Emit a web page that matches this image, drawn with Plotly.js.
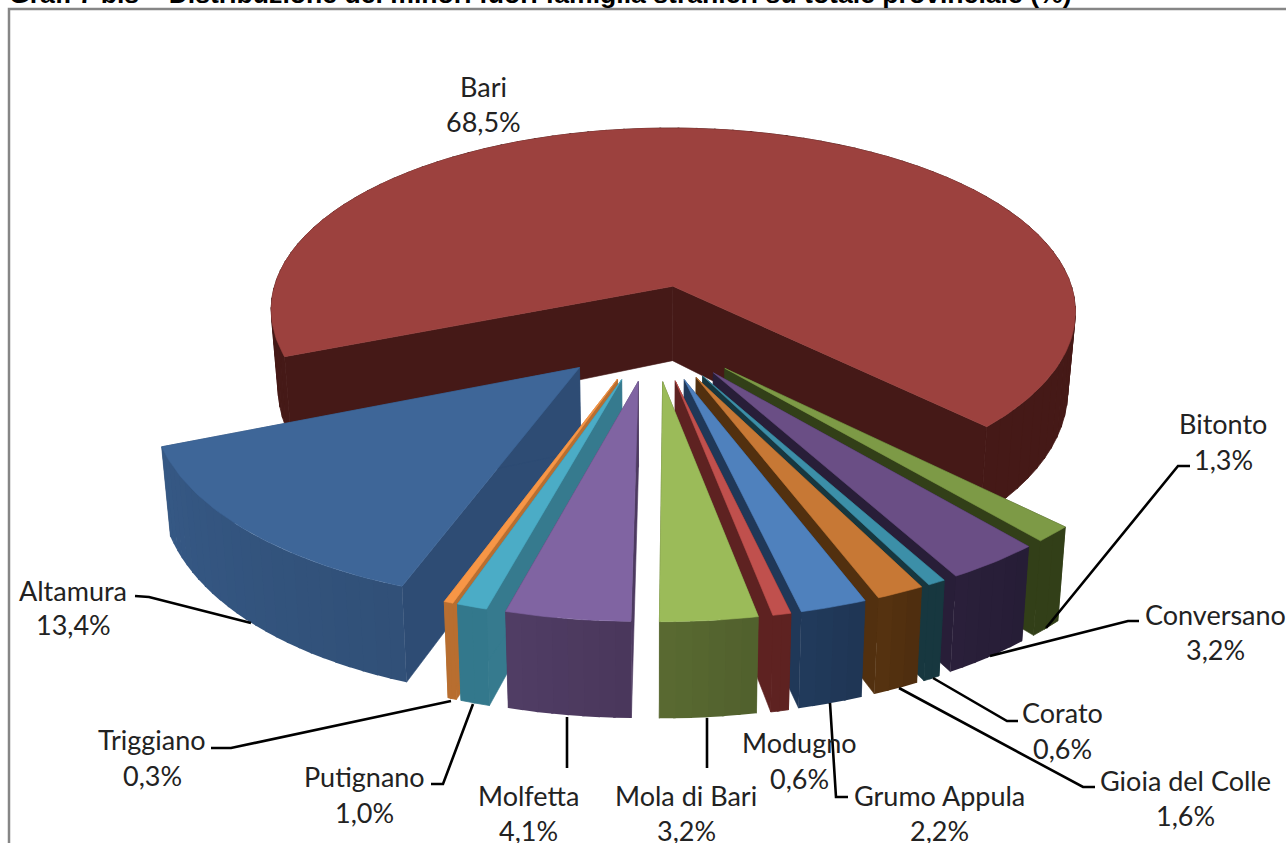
<!DOCTYPE html>
<html><head><meta charset="utf-8">
<script src="https://cdn.plot.ly/plotly-3.0.1.min.js"></script>
<style>html,body{margin:0;padding:0;background:#fff;overflow:hidden}#c{width:1286px;height:843px}</style>
</head><body><div id="c"></div>
<script>
const categories=["Altamura","Bari","Bitonto","Conversano","Corato","Gioia del Colle","Grumo Appula","Modugno","Mola di Bari","Molfetta","Putignano","Triggiano"];
const values=[13.4,68.5,1.3,3.2,0.6,1.6,2.2,0.6,3.2,4.1,1.0,0.3];
const valueLabels=["13,4%","68,5%","1,3%","3,2%","0,6%","1,6%","2,2%","0,6%","3,2%","4,1%","1,0%","0,3%"];
const topColors=["#3E6698","#9C413E","#7D9A46","#6A4E85","#3C8FA8","#C77835","#4F81BD","#C0504D","#9BBB59","#8064A2","#4BACC6","#F79646"];
const sideColors=["#2E4C74","#451917","#323F18","#281E38","#17373F","#52300F","#203858","#5E2221","#55652F","#4D3A60","#367A8E","#B86E30"];
const outerColors=["#33547E","#451917","#323F18","#281E38","#17373F","#52300F","#203858","#5E2221","#55652F","#4D3A60","#33788C","#B86E30"];
const labelX=[73,483,1223,1215,1062,1185,939,799,686,528,364,152];
const nameY=[590,86,423,614,712,780,795,742,795,795,776,739];
const valueY=[624,121,459,649,748,815,830,778,830,830,812,775];
const leaders=[
 [[135,596],[149,597],[251,623]],
 [[1046,628],[1178,466],[1190,466]],
 [[990,656],[1128,621],[1139,621]],
 [[933,678],[1007,721],[1018,721]],
 [[899,688],[1083,787],[1095,787]],
 [[830,703],[836,797],[848,797]],
 [[707,718],[707,768]],
 [[567,717],[567,768]],
 [[473,704],[443,784],[431,784]],
 [[451,701],[231,748],[211,748]]
];
const titleText="Graf. 7 bis – Distribuzione dei minori fuori famiglia stranieri su totale provinciale (%)";

const cx=653,cy=336,Rx=412,A=193,D=8,E=0.25,shrink=0.982,a0=200,bow=4;
const rad=d=>d*Math.PI/180;
function proj(X,Y,bottom){
  const s=1/(1-Y/D);
  let x=Rx*X*Math.pow(s,1.1),y=A*Y*s-bow*(1-(Y/1.25)*(Y/1.25));
  if(bottom){x*=shrink;y+=80+21.5*Y-6.5*Y*Y;}
  return [cx+x,cy+y];
}
function shade(hex,f){
  const n=parseInt(hex.slice(1),16),c=[n>>16,(n>>8)&255,n&255].map(v=>Math.min(255,Math.round(v*f)));
  return `rgb(${c[0]},${c[1]},${c[2]})`;
}
function poly(pts,color,w){
  const xs=pts.map(p=>p[0]),ys=pts.map(p=>p[1]);
  xs.push(xs[0]);ys.push(ys[0]);
  return {type:'scatter',mode:'lines',x:xs,y:ys,fill:'toself',fillcolor:color,line:{color:color,width:w===undefined?0.6:w},hoverinfo:'skip',showlegend:false};
}
const total=values.reduce((a,b)=>a+b,0);
let ang=a0;
const slices=values.map((v,i)=>{
  const sweep=v/total*360,s={i,a:ang,b:ang+sweep,mid:ang+sweep/2};
  ang+=sweep;
  s.ox=E*Math.sin(rad(s.mid));s.oy=-E*Math.cos(rad(s.mid));
  return s;
});
const order=slices.slice().sort((p,q)=>p.oy-q.oy);
const traces=[];
order.forEach(s=>{
  const pt=(t,r)=>[s.ox+r*Math.sin(rad(t)),s.oy-r*Math.cos(rad(t))];
  const apex=[s.ox,s.oy],pa=pt(s.a,1),pb=pt(s.b,1);
  const q=(p,b)=>proj(p[0],p[1],b);
  traces.push(poly([q(apex,0),q(pa,0),q(pa,1),q(apex,1)],sideColors[s.i]));
  traces.push(poly([q(apex,0),q(pb,0),q(pb,1),q(apex,1)],sideColors[s.i]));
  const sweep=s.b-s.a,big=sweep>5&&sweep<100,n=big?Math.ceil(sweep/2):Math.max(2,Math.ceil(sweep/3));
  for(let k=0;k<n;k++){
    const t0=s.a+sweep*k/n,t1=s.a+sweep*(k+1)/n+(k<n-1?0.3:0);
    const u=big?(k+.5)/n:0.5;
    const f=1.05-0.1*(1-u);
    traces.push(poly([q(pt(t0,1),0),q(pt(t1,1),0),q(pt(t1,1),1),q(pt(t0,1),1)],shade(outerColors[s.i],f),big?0:0.8));
  }
  const top=[q(apex,0)],m=Math.max(4,Math.ceil(sweep));
  for(let k=0;k<=m;k++)top.push(q(pt(s.a+sweep*k/m,1),0));
  traces.push(poly(top,topColors[s.i]));
});
const lf={family:'Lato, Carlito, sans-serif',size:27,color:'#222'};
const annotations=[];
categories.forEach((c,i)=>{
  annotations.push({x:labelX[i],y:nameY[i],xref:'x',yref:'y',text:c,showarrow:false,xanchor:'center',yanchor:'middle',font:lf});
  annotations.push({x:labelX[i],y:valueY[i],xref:'x',yref:'y',text:valueLabels[i],showarrow:false,xanchor:'center',yanchor:'middle',font:lf});
});
annotations.push({x:8,y:10.5,xref:'x',yref:'y',text:'<b>'+titleText+'</b>',showarrow:false,xanchor:'left',yanchor:'bottom',font:{family:'Liberation Sans, Arial, sans-serif',size:26.6,color:'#000'},borderpad:0});
const shapes=[{type:'rect',xref:'x',yref:'y',x0:9,y0:9,x1:1300,y1:860,line:{color:'#868686',width:2.5},fillcolor:'rgba(0,0,0,0)',layer:'above'}];
leaders.forEach(l=>shapes.push({type:'path',xref:'x',yref:'y',path:'M'+l.map(p=>p[0]+','+p[1]).join(' L'),line:{color:'#000',width:2.6},layer:'above'}));
Plotly.newPlot('c',traces,{
  width:1286,height:843,margin:{l:0,r:0,t:0,b:0},paper_bgcolor:'#fff',plot_bgcolor:'#fff',showlegend:false,
  xaxis:{range:[0,1286],visible:false,fixedrange:true},
  yaxis:{range:[843,0],visible:false,fixedrange:true},
  annotations,shapes
},{displayModeBar:false,staticPlot:true});
</script></body></html>
